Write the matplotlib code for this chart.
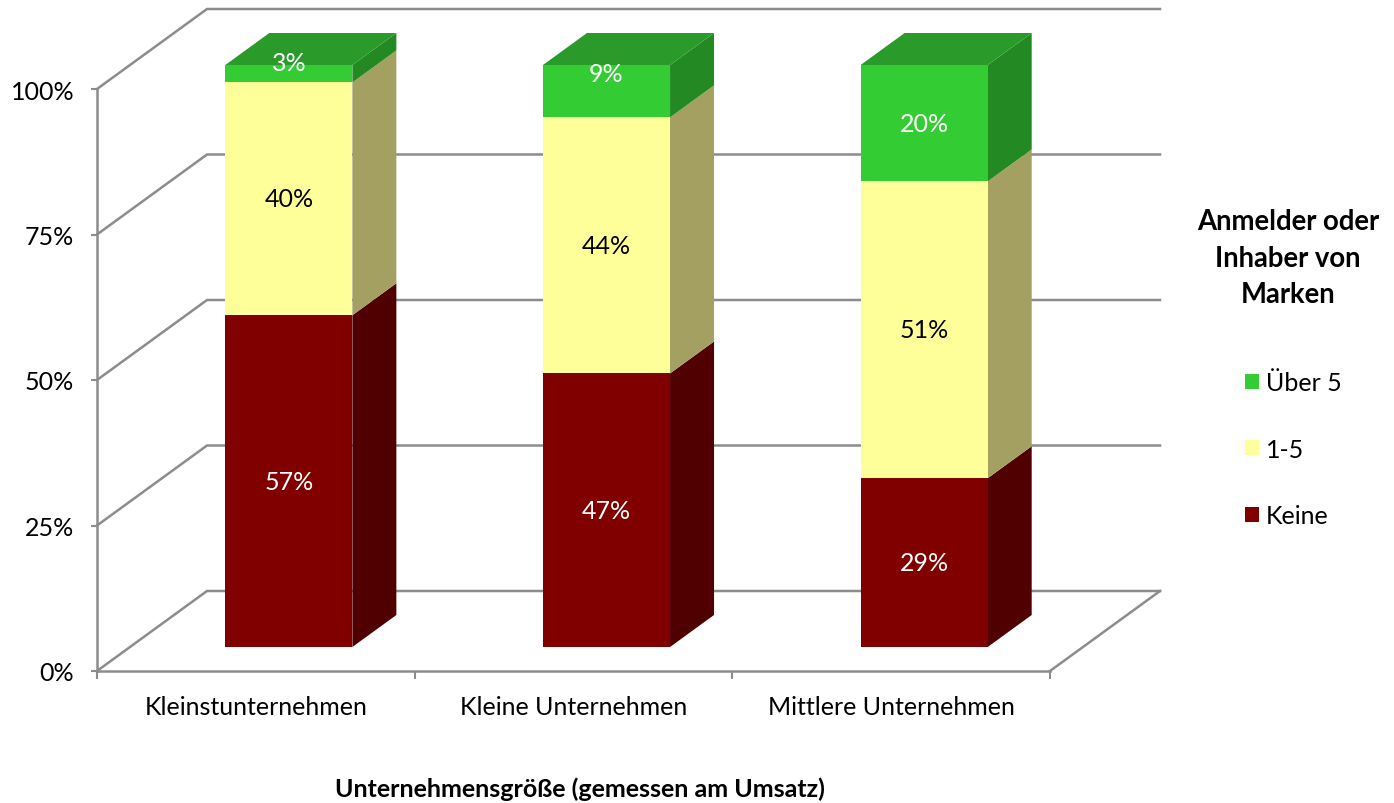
import matplotlib
matplotlib.use('Agg')
import matplotlib.pyplot as plt
from matplotlib.patches import Polygon, Patch
import numpy as np

# ---------------- data ----------------
categories = ['Kleinstunternehmen', 'Kleine Unternehmen', 'Mittlere Unternehmen']
series_names = ['Keine', '1-5', 'Über 5']
keine = [57, 47, 29]
eins_bis_fuenf = [40, 44, 51]
ueber_5 = [3, 9, 20]
y_ticks = [0, 25, 50, 75, 100]
y_tick_labels = ['0%', '25%', '50%', '75%', '100%']
x_title = 'Unternehmensgröße (gemessen am Umsatz)'
legend_title = 'Anmelder oder\nInhaber von\nMarken'

# ---------------- style ----------------
plt.rcParams['font.family'] = ['Lato', 'DejaVu Sans']
front_c = ['#800000', '#FFFF99', '#33CC33']
side_c = ['#500000', '#A3A062', '#238A23']
top_c = ['#660000', '#CCCC7A', '#2A9A2A']
text_c = ['white', 'black', 'white']
grid_c = '#8C8C8C'
FS = 18

W, H = 1394, 804
fig = plt.figure(figsize=(W / 100, H / 100), dpi=100)

PX_CAT = (1050 - 97) / 3.0     # pixels per category
PX_PCT = (672 - 90) / 100.0    # pixels per percent
DX = 110 / PX_CAT              # full depth in x (data units)
DY = 80 / PX_PCT               # full depth in y (data units)

ax = fig.add_axes([97 / W, (H - 672) / H, (1160 - 97) / W, (672 - 10) / H])
ax.set_xlim(0, 3 + DX)
ax.set_ylim(0, 100 + DY)

# walls / gridlines
for v in y_ticks:
    ax.plot([0, DX, 3 + DX], [v, v + DY, v + DY], color=grid_c, lw=1.8,
            zorder=1, clip_on=False, solid_joinstyle='miter')
ax.plot([3, 3 + DX], [0, DY], color=grid_c, lw=1.8, zorder=1, clip_on=False)

# spines / ticks
for s in ['top', 'right']:
    ax.spines[s].set_visible(False)
for s in ['left', 'bottom']:
    ax.spines[s].set_color(grid_c)
    ax.spines[s].set_linewidth(1.8)
ax.spines['left'].set_bounds(0, 100)
ax.spines['bottom'].set_bounds(0, 3)
ax.set_yticks(y_ticks)
ax.set_yticklabels(y_tick_labels, fontsize=FS)
ax.tick_params(axis='y', length=4.5, width=1.5, color=grid_c, pad=12)
ax.set_xticks([0, 1, 2, 3])
ax.set_xticklabels([])
ax.tick_params(axis='x', which='major', length=5.5, width=1.5, color=grid_c)
x = np.arange(len(categories)) + 0.5
ax.set_xticks(x, minor=True)
ax.set_xticklabels(categories, minor=True, fontsize=FS)
ax.tick_params(axis='x', which='minor', length=0, pad=17)

# bars
bar_w = 0.4
f0, f1 = 0.3, 0.7
ox, oy = f0 * DX, f0 * DY
dx, dy = (f1 - f0) * DX, (f1 - f0) * DY
series = [keine, eins_bis_fuenf, ueber_5]
bottom = np.zeros(len(categories))
label_nudge = {(0, 2): 8.0, (1, 2): 12.5}
for k, vals in enumerate(series):
    vals = np.asarray(vals, dtype=float)
    ax.bar(x + ox, vals, bar_w, bottom=bottom + oy, color=front_c[k],
           zorder=4, linewidth=0)
    for i in range(len(categories)):
        xr = x[i] + ox + bar_w / 2
        b = bottom[i] + oy
        t = b + vals[i]
        ax.add_patch(Polygon([(xr, b), (xr + dx, b + dy), (xr + dx, t + dy), (xr, t)],
                             closed=True, facecolor=side_c[k], edgecolor='none',
                             zorder=3))
        if k == len(series) - 1:
            xl = x[i] + ox - bar_w / 2
            ax.add_patch(Polygon([(xl, t), (xr, t), (xr + dx, t + dy), (xl + dx, t + dy)],
                                 closed=True, facecolor=top_c[k], edgecolor='none',
                                 zorder=3))
        ax.annotate(f'{vals[i]:.0f}%', (x[i] + ox, b + vals[i] / 2),
                    xytext=(0, label_nudge.get((i, k), 0)), textcoords='offset points',
                    ha='center', va='center', fontsize=FS, color=text_c[k], zorder=6)
    bottom = bottom + vals

# x-axis title
fig.text(580 / W, 1 - 789 / H, x_title, ha='center', va='center',
         fontsize=FS, fontweight='bold')

# legend (title drawn as a separate centred text block)
fig.text(1288 / W, 1 - 259 / H, legend_title, ha='center', va='center',
         multialignment='center', fontsize=19.8, fontweight='bold',
         linespacing=1.5)
handles = [Patch(facecolor=front_c[k], edgecolor='none') for k in range(len(series))][::-1]
leg = fig.legend(handles, series_names[::-1],
                 loc='upper left', bbox_to_anchor=(1245 / W, 1 - 372 / H),
                 frameon=False, fontsize=FS,
                 handlelength=0.55, handleheight=0.55, handletextpad=0.3,
                 labelspacing=1.75, borderpad=0, borderaxespad=0)

fig.savefig('out.png', dpi=100)
